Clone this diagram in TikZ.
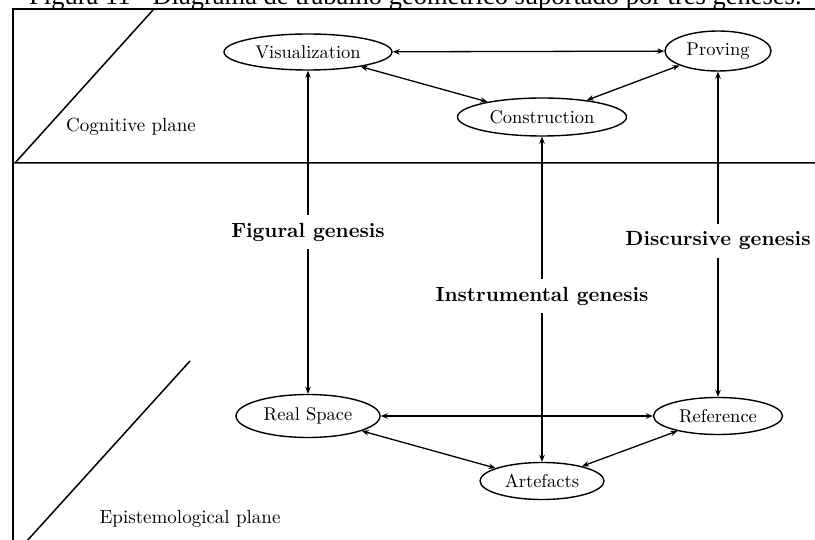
\documentclass[tikz,border=0pt]{standalone}
\usepackage{fontspec}
\newfontfamily\captionfont{Liberation Serif}
% ten-point design of Latin Modern, scaled up
\newfontfamily\lmten{lmroman10-regular.otf}[BoldFont=lmroman10-bold.otf]
\usetikzlibrary{shapes.geometric,arrows.meta}

\tikzset{
  frameline/.style={line width=2.8pt},
  planeline/.style={line width=1.5pt},
  stage/.style={ellipse, draw, line width=1.4pt, inner sep=0pt, font=\lmten\fontsize{18.5}{20}\selectfont},
  link/.style={line width=1.3pt, {Stealth[length=7pt,width=5.5pt]}-{Stealth[length=7pt,width=5.5pt]}},
  genesis/.style={fill=white, inner xsep=2pt, inner ysep=8pt, font=\lmten\fontsize{20.5}{22}\selectfont\bfseries},
  planelabel/.style={font=\lmten\fontsize{19}{21}\selectfont},
}

\begin{document}
\begin{tikzpicture}[x=1pt,y=-1pt]
\useasboundingbox (0,0) rectangle (815,540);

% caption of the figure, running off the top edge
\begin{scope}
  \clip (0,0) rectangle (815,540);
  \node[anchor=base west, inner sep=0pt, font=\captionfont\fontsize{26.5}{28}\selectfont] (caption) at (29,4.5)
    {Figura 11 - Diagrama de trabalho geométrico suportado por três gêneses.};
\end{scope}

% outer frame
\coordinate (frameTL) at (13,9);
\coordinate (frameBL) at (13,541);
\coordinate (frameTR) at (816,9);
\draw[frameline] (frameBL) -- (frameTL) -- (frameTR);

% the two planes
\coordinate (cogA) at (153,10);
\coordinate (cogB) at (15,163);
\coordinate (sepR) at (816,163);
\draw[planeline] (cogA) -- (cogB) -- (sepR);
\coordinate (epiA) at (190,361);
\coordinate (epiB) at (26,542);
\draw[planeline] (epiA) -- (epiB);

\node[planelabel] (cog) at (131,127) {Cognitive plane};
\node[planelabel] (epi) at (190,519) {Epistemological plane};

% cognitive stages
\node[stage, minimum width=168pt, minimum height=36pt] (vis) at (308,52) {Visualization};
\node[stage, minimum width=106pt, minimum height=40pt] (pro) at (718,51) {Proving};
\node[stage, minimum width=169pt, minimum height=38pt] (con) at (542,117) {Construction};

% epistemological stages
\node[stage, minimum width=144pt, minimum height=43pt] (rs) at (308,416) {Real Space};
\node[stage, minimum width=129pt, minimum height=37pt] (ref) at (718,416) {Reference};
\node[stage, minimum width=124pt, minimum height=37pt] (art) at (542,481) {Artefacts};

% links inside each plane
\draw[link] (vis) -- (pro);
\draw[link] (vis) -- (con);
\draw[link] (con) -- (pro);
\draw[link] (rs) -- (ref);
\draw[link] (rs) -- (art);
\draw[link] (art) -- (ref);

% the three geneses
\draw[link] (vis) -- node[genesis] (fig) {Figural genesis} (rs);
\draw[link] (con) -- node[genesis, pos=0.49] (ins) {Instrumental genesis} (art);
\draw[link] (pro) -- node[genesis, pos=0.52] (dis) {Discursive genesis} (ref);
\end{tikzpicture}
\end{document}
